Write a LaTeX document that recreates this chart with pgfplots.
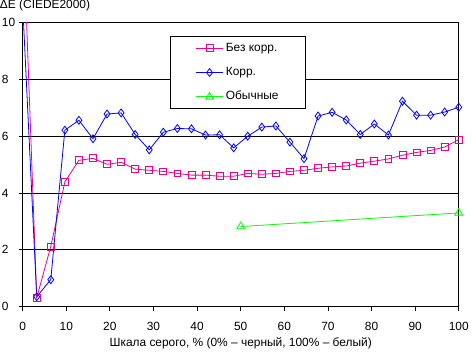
\documentclass[border=0pt]{standalone}
\usepackage{pgfplots}
\pgfplotsset{compat=1.18}
\usepackage{fontspec}
\setmainfont{Liberation Sans}
\begin{document}
\begin{tikzpicture}[font=\fontsize{12}{14.4}\selectfont]
\begin{axis}[
  scale only axis, width=439pt, height=286pt,
  xmin=0, xmax=100, ymin=0, ymax=10,
  xtick={0,10,...,100}, ytick={0,2,...,10},
  /pgf/number format/assume math mode=true,
  tick align=outside, major tick length=4pt,
  xtick pos=bottom, ytick pos=left,
  tick style={black, line width=0.8pt},
  axis line style={black, line width=0.8pt},
  ymajorgrids, major grid style={black, line width=0.8pt},
  xticklabel style={yshift=-8pt},
  yticklabel style={anchor=west, inner sep=0pt, xshift=-17pt},
  xlabel={Шкала серого, \% (0\% – черный, 100\% – белый)},
  xlabel style={yshift=0pt},
  legend style={at={(0.338,0.953)}, anchor=north west, draw=black, line width=0.8pt,
    inner xsep=25pt, inner ysep=4pt, row sep=8.5pt,
    nodes={inner sep=2pt, text height=9pt, text depth=3pt}},
  legend cell align=left,
  legend image code/.code={\draw[mark repeat=2,mark phase=2] plot coordinates {(0pt,0pt) (14pt,0pt) (28pt,0pt)};},
]
\addplot[color=magenta, line width=0.8pt, mark=square, mark size=3.5pt, mark options={solid, fill=white}] coordinates {
(0,13.8) (3.226,0.31) (6.452,2.12) (9.677,4.39) (12.903,5.15) (16.129,5.22) (19.355,5.01) (22.581,5.08)
(25.806,4.84) (29.032,4.80) (32.258,4.76) (35.484,4.69) (38.710,4.63) (41.935,4.63) (45.161,4.59) (48.387,4.59)
(51.613,4.69) (54.839,4.66) (58.065,4.69) (61.290,4.76) (64.516,4.80) (67.742,4.87) (70.968,4.92) (74.194,4.95)
(77.419,5.05) (80.645,5.12) (83.871,5.20) (87.097,5.33) (90.323,5.43) (93.548,5.50) (96.774,5.62) (100,5.88)};
\addlegendentry{Без корр.}
\addplot[color=blue, line width=0.8pt, mark=diamond, mark size=4pt, mark options={solid, fill=white}] coordinates {
(0,10.64) (3.226,0.35) (6.452,0.95) (9.677,6.21) (12.903,6.56) (16.129,5.91) (19.355,6.78) (22.581,6.82)
(25.806,6.06) (29.032,5.52) (32.258,6.14) (35.484,6.27) (38.710,6.26) (41.935,6.04) (45.161,6.05) (48.387,5.59)
(51.613,6.00) (54.839,6.32) (58.065,6.36) (61.290,5.79) (64.516,5.21) (67.742,6.71) (70.968,6.84) (74.194,6.57)
(77.419,6.06) (80.645,6.43) (83.871,6.04) (87.097,7.23) (90.323,6.74) (93.548,6.74) (96.774,6.85) (100,7.02)};
\addlegendentry{Корр.}
\addplot[color=green, line width=0.8pt, mark=triangle, mark size=4.5pt, mark options={solid, fill=white}] coordinates {
(50,2.82) (100,3.30)};
\addlegendentry{Обычные}
\end{axis}
\node[anchor=base west, inner sep=0pt] at ([xshift=-23pt, yshift=14pt]current axis.north west) {ΔE (CIEDE2000)};
\end{tikzpicture}
\end{document}
